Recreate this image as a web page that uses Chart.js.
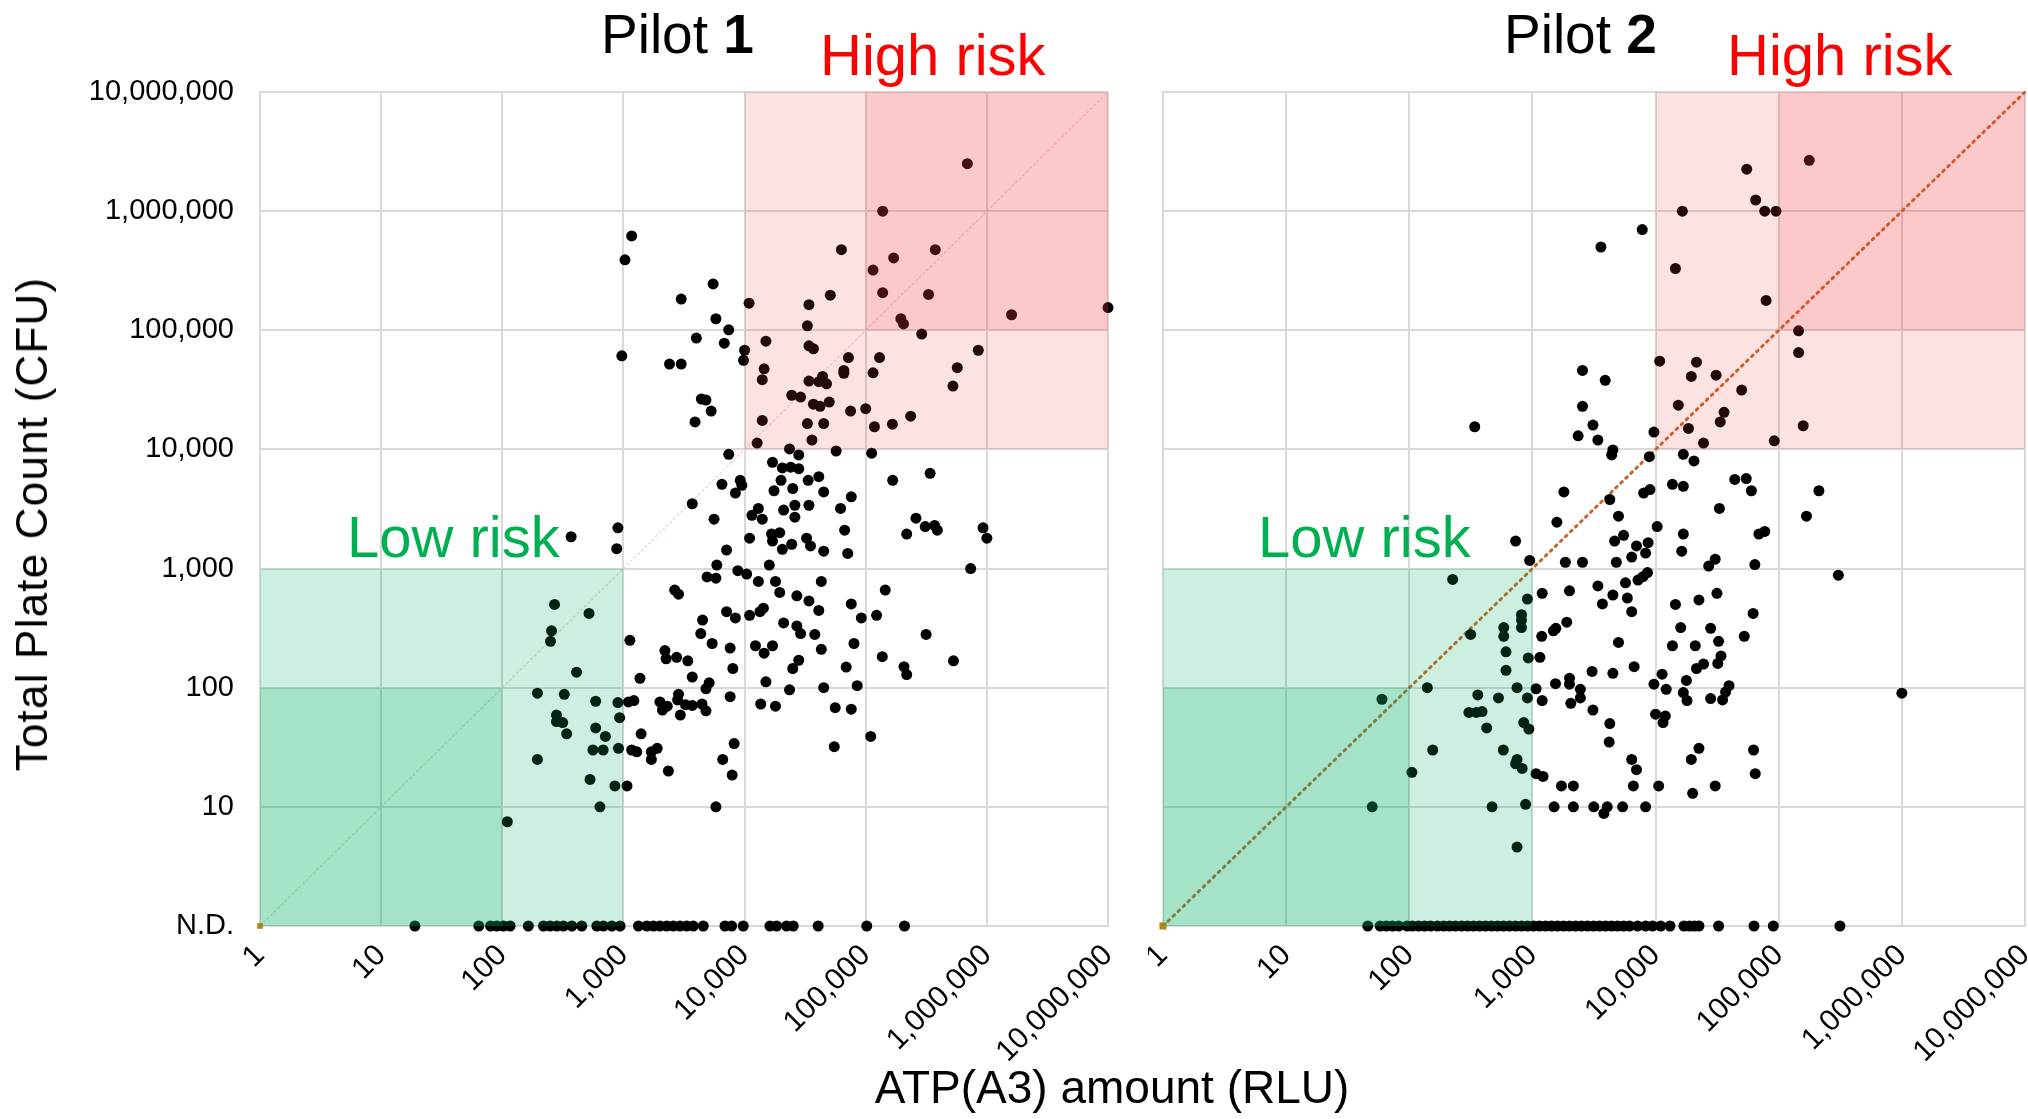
<!DOCTYPE html>
<html>
<head>
<meta charset="utf-8">
<script src="https://cdn.jsdelivr.net/npm/chart.js@4.4.0/dist/chart.umd.min.js"></script>
<style>
  body { margin: 0; width: 2028px; height: 1119px; overflow: hidden; background: #fff; position: relative;
         font-family: "Liberation Sans", Arial, sans-serif; color: #000; }
  canvas { position: absolute; top: 0; }
  .txt { position: absolute; white-space: nowrap; line-height: 1; }
</style>
</head>
<body>
<canvas id="pilot1" width="1131" height="1070" style="left:0px"></canvas>
<canvas id="pilot2" width="900" height="1070" style="left:1148px"></canvas>

<div class="txt" style="left:601px;top:7px;font-size:55px">Pilot <b>1</b></div>
<div class="txt" style="left:1504px;top:7px;font-size:55px">Pilot <b>2</b></div>
<div class="txt" style="left:820px;top:26px;font-size:58px;color:#ff0000">High risk</div>
<div class="txt" style="left:1727px;top:26px;font-size:58px;color:#ff0000">High risk</div>
<div class="txt" style="left:347px;top:508px;font-size:58px;color:#00b050">Low risk</div>
<div class="txt" style="left:1258px;top:508px;font-size:58px;color:#00b050">Low risk</div>
<div class="txt" style="left:1112px;top:1064px;font-size:46px;transform:translateX(-50%)">ATP(A3) amount (RLU)</div>
<div class="txt" style="left:32px;top:524px;font-size:44px;letter-spacing:1.2px;transform:translate(-50%,-50%) rotate(-90deg)">Total Plate Count (CFU)</div>

<script>
// axis ticks (both plots share the same log decades)
const decadeTicks = [1, 10, 100, 1000, 10000, 100000, 1000000, 10000000];
const xTickLabels = ["1", "10", "100", "1,000", "10,000", "100,000", "1,000,000", "10,000,000"];
const yTickLabels = ["N.D.", "10", "100", "1,000", "10,000", "100,000", "1,000,000", "10,000,000"];
const ND_VALUE = 1; // not detected is plotted on the bottom line

// risk zone thresholds (RLU and CFU use the same cut-offs)
const highRiskFrom = [10000, 100000];
const lowRiskTo = [1000, 100];

// Pilot 1 : ATP (RLU) / TPC (CFU) pairs
const pilot1Atp = [
  1170, 1030, 5500, 3000, 10900, 34000, 51000, 63000, 5800, 7400,
  4000, 6800, 33000, 15000, 970, 2400, 3000, 10000, 9800, 34000,
  37000, 14500, 14000, 34000, 44000, 47500, 41000, 4400, 4800, 5300,
  3900, 24500, 29000, 37000, 42000, 50000, 14000, 33000, 45000, 36000,
  12700, 7400, 23500, 28000, 17000, 20500, 24000, 28000, 57000, 6500,
  9200, 9500, 8400, 20000, 33500, 41000, 17500, 25000, 45000, 3700,
  13000, 11500, 14000, 21000, 26000, 26000, 34000, 5600, 900, 370,
  62000, 690000, 138000, 375000, 170000, 115000, 138000, 330000, 195000, 205000,
  290000, 1600000, 10000000, 850000, 72000, 130000, 66000, 66000, 115000, 570000,
  525000, 75000, 100000, 118000, 166000, 235000, 112000, 167000, 340000, 76000,
  67000, 260000, 310000, 370000, 390000, 218000, 930000, 1000000, 880, 7100,
  11000, 16700, 19500, 17000, 20500, 24500, 32500, 35000, 45000, 5900,
  16000, 4900, 5800, 8800, 10400, 13000, 18000, 19500, 43000, 2650,
  2850, 27000, 34000, 270, 520, 7100, 8400, 11000, 13400, 14300,
  41000, 4500, 21000, 27000, 29000, 38000, 255, 250, 1130, 4350,
  5400, 7600, 12300, 14500, 17000, 43000, 2200, 2250, 2750, 3400,
  410, 8000, 28000, 25000, 1370, 3700, 5100, 4800, 15000, 23500,
  45000, 7600, 195, 325, 590, 900, 1100, 1220, 2000, 2300,
  2100, 2850, 2800, 3250, 3700, 4450, 4800, 2950, 13600, 18000,
  56000, 280, 280, 315, 930, 590, 710, 340, 1400, 560,
  680, 910, 1170, 1290, 1700, 1900, 1700, 8200, 55000, 195,
  6600, 2350, 7900, 530, 850, 1070, 640, 5800, 110, 71000,
  735000, 145000, 76000, 92000, 123000, 315000, 80000, 137000, 530000, 69000,
  207000, 218000, 85000, 76000, 110000
];
const pilot1Cfu = [
  620000, 390000, 245000, 183000, 169000, 164000, 197000, 475000, 125000, 101000,
  86000, 78000, 109000, 81000, 61000, 52000, 52000, 68000, 56000, 74000,
  70000, 47500, 38500, 37500, 41000, 35500, 37000, 26500, 26000, 21000,
  17000, 28500, 27500, 24000, 23000, 25000, 17500, 16500, 16500, 12000,
  11300, 9100, 10100, 9000, 7800, 7000, 7100, 6900, 9700, 5100,
  5500, 5000, 4300, 5500, 5500, 5900, 4500, 4700, 4400, 3500,
  3200, 2800, 2600, 3100, 3400, 2700, 3400, 2600, 2200, 1850,
  3200, 2500000, 1000000, 475000, 405000, 320000, 207000, 200000, 125000, 113000,
  93000, 135000, 155000, 68000, 59000, 59000, 46000, 43500, 44000, 48500,
  34000, 21000, 22000, 15500, 16300, 19000, 9300, 5500, 6300, 4000,
  2100, 2650, 2250, 2300, 2100, 1950, 2200, 1800, 1470, 1430,
  1800, 1950, 2000, 1700, 1450, 1600, 1800, 1550, 1400, 1070,
  1070, 850, 830, 960, 900, 780, 780, 630, 780, 660,
  610, 590, 535, 500, 420, 435, 385, 405, 435, 465,
  445, 370, 350, 330, 285, 280, 300, 245, 250, 285,
  235, 215, 225, 195, 225, 210, 205, 175, 180, 168,
  135, 145, 170, 145, 120, 123, 110, 98, 112, 96,
  100, 84, 90, 88, 77, 75, 76, 78, 76, 70,
  65, 88, 79, 72, 71, 73, 64, 59, 73, 70,
  68, 59, 52, 51, 56, 46, 39, 41, 41, 30,
  30, 31, 30, 29, 25, 31, 29, 34, 32, 25,
  25, 20, 18.5, 17, 15, 15, 10, 10, 7.5, 1340,
  1000, 660, 505, 385, 405, 280, 235, 182, 168, 149,
  150, 129, 104, 66, 39
];
// Pilot 1 : ATP of samples with no colonies (N.D.)
const pilot1NdAtp = [
  19, 64, 80, 90, 102, 116, 164, 219, 248, 282, 320, 375, 453, 603, 683, 801, 938,
  1330, 1560, 1770, 2000, 2280, 2580, 2930, 3330, 3770, 4560, 6890, 7820, 9750,
  16200, 18400, 22200, 25200, 40500, 102000, 209000
];

// Pilot 2
const pilot2Atp = [
  7800, 3600, 10800, 2550, 3900, 2550, 340, 3100, 2350, 3400,
  9700, 4500, 4400, 8900, 1800, 8000, 9000, 4250, 1580, 5000,
  10300, 177000, 55000, 65000, 16500, 77000, 95000, 14500, 79000, 145000,
  145000, 21500, 19500, 31000, 50000, 15300, 36000, 33500, 18500, 158000,
  24500, 92000, 16800, 20500, 13700, 16800, 44000, 54500, 60000, 212000,
  33000, 168000, 16800, 69000, 77000, 730, 4650, 5500, 7000, 8700,
  6400, 8300, 950, 1850, 2550, 4800, 225, 7200, 7900, 8600,
  5700, 1200, 2000, 3400, 4500, 5900, 910, 3700, 6400, 815,
  815, 585, 585, 815, 1900, 1550, 1480, 315, 1190, 5000,
  610, 925, 1150, 610, 3050, 4500, 6700, 11300, 140, 750,
  1070, 1540, 2000, 2000, 2450, 2450, 9700, 12200, 60, 360,
  530, 910, 1200, 2050, 3100, 305, 350, 390, 10000, 12000,
  11500, 850, 935, 425, 4250, 4200, 155, 580, 750, 730,
  825, 6400, 7000, 105, 1070, 1220, 1720, 2150, 6600, 10600,
  50, 470, 880, 1500, 2150, 3150, 4050, 3800, 5400, 8300,
  750, 16300, 30500, 27000, 64000, 305000, 31500, 14500, 22500, 62000,
  16000, 28000, 52500, 13700, 21000, 32500, 34000, 32000, 24500, 21500,
  17800, 16800, 18000, 28000, 39500, 37000, 35000, 1000000, 22500, 19500,
  62500, 64500, 30500, 20000
];
const pilot2Cfu = [
  700000, 500000, 55000, 46000, 38000, 23000, 15500, 16000, 13000, 12000,
  14000, 9900, 9000, 8700, 4400, 4300, 4600, 3800, 2450, 2750,
  2250, 2670000, 2250000, 1240000, 1000000, 1000000, 1000000, 330000, 178000, 99000,
  65000, 54000, 41000, 42000, 31500, 23500, 20500, 17000, 15000, 15800,
  11300, 11800, 9100, 8000, 5100, 4900, 5600, 5700, 4500, 4500,
  3200, 2750, 1950, 1950, 2050, 1700, 1700, 1900, 1550, 1650,
  1250, 1350, 1170, 1130, 1130, 1130, 810, 800, 855, 925,
  760, 620, 650, 715, 600, 565, 555, 505, 435, 410,
  370, 320, 270, 320, 355, 315, 300, 280, 270, 240,
  200, 178, 180, 140, 137, 132, 150, 130, 100, 100,
  98, 108, 120, 107, 97, 82, 107, 97, 80, 87,
  82, 82, 78, 74, 65, 62, 62, 63, 60, 58,
  51, 51, 45, 46, 50, 35, 30, 30, 25, 23,
  21, 25, 20.5, 19.5, 19, 18, 15, 15, 15, 15,
  10, 10, 10.5, 10, 10, 10, 10, 8.8, 10, 10,
  4.6, 1400, 1200, 1050, 1080, 880, 620, 500, 545, 420,
  320, 315, 270, 225, 225, 245, 185, 160, 158, 145,
  115, 91, 78, 81, 104, 92, 79, 90, 31, 25,
  30, 19, 15, 13
];
const pilot2NdAtp = [
  46, 58, 65, 73, 82, 96, 106, 119, 133, 149, 169, 190, 212, 237, 266, 297, 332,
  372, 416, 465, 520, 582, 651, 729, 815, 912, 1020, 1140, 1280, 1430, 1600, 1790,
  2000, 2240, 2500, 2800, 3140, 3510, 3930, 4390, 4910, 5500, 6150, 7140, 8300,
  9460, 11000, 13100, 17000, 18900, 20700, 22500, 32500, 63000, 90400, 314000
];

const FONT = "'Liberation Sans', Arial, sans-serif";
const GRID = "#d9d9d9";

Chart.defaults.font.family = FONT;

// translucent risk boxes painted over the points, like the shapes in the original sheet
const riskZones = {
  id: "riskZones",
  afterDatasetsDraw(chart) {
    const { ctx, chartArea: a, scales: { x, y } } = chart;
    ctx.save();
    ctx.beginPath();
    ctx.rect(a.left, a.top, a.right - a.left, a.bottom - a.top);
    ctx.clip();

    ctx.fillStyle = "rgba(240, 60, 60, 0.15)";
    highRiskFrom.forEach((v) => {
      const left = x.getPixelForValue(v);
      const bottom = y.getPixelForValue(v);
      ctx.fillRect(left, a.top, a.right - left, bottom - a.top);
    });

    ctx.fillStyle = "rgba(0, 176, 100, 0.2)";
    lowRiskTo.forEach((v) => {
      const right = x.getPixelForValue(v);
      const top = y.getPixelForValue(v);
      ctx.fillRect(a.left, top, right - a.left, a.bottom - top);
    });
    ctx.restore();
  }
};

function buildPilot(canvasId, atp, cfu, ndAtp, diagonal, showYLabels, padLeft) {
  const points = atp.map((v, i) => ({ x: v, y: cfu[i] }));
  ndAtp.forEach((v) => points.push({ x: v, y: ND_VALUE }));

  const first = decadeTicks[0];
  const last = decadeTicks[decadeTicks.length - 1];

  return new Chart(document.getElementById(canvasId), {
    type: "scatter",
    data: {
      datasets: [
        {
          data: points,
          backgroundColor: "#000",
          borderWidth: 0,
          pointRadius: 5.5,
          pointHoverRadius: 5.5,
          clip: false
        },
        {
          data: [{ x: first, y: first }, { x: last, y: last }],
          showLine: true,
          borderColor: diagonal.color,
          borderWidth: diagonal.width,
          borderDash: diagonal.dash,
          borderCapStyle: "round",
          pointRadius: [diagonal.marker, 0],
          pointStyle: "rect",
          pointBackgroundColor: "#b8860b",
          pointBorderWidth: 0,
          clip: false
        }
      ]
    },
    options: {
      responsive: false,
      animation: false,
      devicePixelRatio: 1,
      events: [],
      layout: { padding: { top: 92, right: 23, bottom: 0, left: padLeft } },
      plugins: { legend: { display: false }, tooltip: { enabled: false } },
      scales: {
        x: {
          type: "logarithmic",
          min: first,
          max: last,
          afterBuildTicks: (s) => { s.ticks = decadeTicks.map((v) => ({ value: v })); },
          afterFit: (s) => { s.height = 144; s.paddingLeft = 0; s.paddingRight = 0; },
          grid: { color: GRID, lineWidth: 2, drawTicks: false },
          border: { color: GRID, width: 2 },
          ticks: {
            autoSkip: false,
            minRotation: 45,
            maxRotation: 45,
            padding: 12,
            color: "#000",
            font: { size: 30 },
            callback: (v, i) => xTickLabels[i]
          }
        },
        y: {
          type: "logarithmic",
          min: first,
          max: last,
          afterBuildTicks: (s) => { s.ticks = decadeTicks.map((v) => ({ value: v })); },
          afterFit: (s) => { s.width = showYLabels ? 260 : 0; s.paddingTop = 0; s.paddingBottom = 0; },
          grid: { color: GRID, lineWidth: 2, drawTicks: false },
          border: { color: GRID, width: 2 },
          ticks: {
            display: showYLabels,
            padding: 26,
            color: "#000",
            font: { size: 29 },
            callback: (v, i) => yTickLabels[i]
          }
        }
      }
    },
    plugins: [riskZones]
  });
}

// pilot 1 has a faint 1:1 line, pilot 2 a stronger dotted one
buildPilot("pilot1", pilot1Atp, pilot1Cfu, pilot1NdAtp,
  { color: "rgba(230, 150, 110, 0.35)", width: 1.5, dash: [2, 3], marker: 4 }, true, 0);
buildPilot("pilot2", pilot2Atp, pilot2Cfu, pilot2NdAtp,
  { color: "#c8642a", width: 3, dash: [2, 5], marker: 5 }, false, 15);
</script>
</body>
</html>
